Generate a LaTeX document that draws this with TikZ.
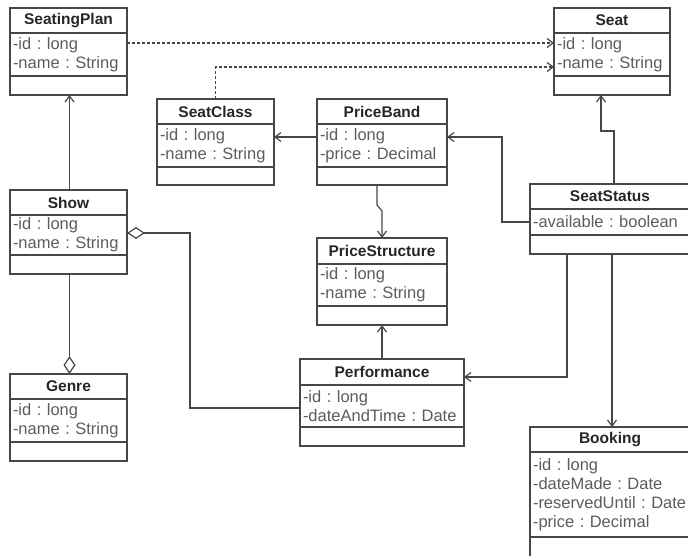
\documentclass[tikz,border=0pt]{standalone}
\usepackage{fontspec}
\setmainfont{Liberation Sans}
\usetikzlibrary{
    arrows.meta,
    positioning
}
\definecolor{linegray}{HTML}{474747}
\definecolor{textgray}{HTML}{5C5C5C}
\frenchspacing

\begin{document}
\begin{tikzpicture}
        [
            x = 1pt, y = -1pt,
            box/.style = {draw = linegray, line width = 1.2pt, rectangle, outer sep = 0pt},
            head/.style = {box, anchor = north west, inner sep = 0pt, minimum width = #1, minimum height = 25pt, text = black!85, font = \fontsize{15.5}{19}\selectfont\bfseries},
            attr/.style = {box, inner xsep = 3pt, inner ysep = 0pt, text width = #1, align = left, text = textgray, font = \fontsize{16.5}{19}\selectfont},
            oper/.style = {box, inner sep = 0pt, minimum width = #1, minimum height = 19pt},
            assoc/.style = {draw = linegray, line width = 1.2pt, -{Straight Barb[length = 6pt, width = 9pt]}},
            depend/.style = {assoc, dash pattern = on 3pt off 2pt},
            aggr/.style = {draw = linegray, line width = 1.2pt, {Diamond[open, length = 18pt, width = 12pt]}-}
        ]
        \useasboundingbox (0, 0) rectangle (688, 555);
        \clip (0, 0) rectangle (688, 555);
        % SeatingPlan
        \def\xpos{10}
        \def\ypos{8}
        \node[head = 117pt] (plan) at (\xpos, \ypos) {SeatingPlan};
        \node[attr = 111pt, minimum height = 43pt, below = 0pt of plan] (planA) {-id : long\\-name : String};
        \node[oper = 117pt, below = 0pt of planA] (planO) {};
        % Seat
        \def\xpos{554}
        \node[head = 116pt] (seat) at (\xpos, \ypos) {Seat};
        \node[attr = 110pt, minimum height = 43pt, below = 0pt of seat] (seatA) {-id : long\\-name : String};
        \node[oper = 116pt, below = 0pt of seatA] (seatO) {};
        % SeatClass
        \def\xpos{157}
        \def\ypos{99}
        \node[head = 117pt] (cls) at (\xpos, \ypos) {SeatClass};
        \node[attr = 111pt, minimum height = 43pt, below = 0pt of cls] (clsA) {-id : long\\-name : String};
        \node[oper = 117pt, minimum height = 18pt, below = 0pt of clsA] (clsO) {};
        % PriceBand
        \def\xpos{317}
        \node[head = 130pt] (band) at (\xpos, \ypos) {PriceBand};
        \node[attr = 124pt, minimum height = 43pt, below = 0pt of band] (bandA) {-id : long\\-price : Decimal};
        \node[oper = 130pt, minimum height = 18pt, below = 0pt of bandA] (bandO) {};
        % Show
        \def\xpos{10}
        \def\ypos{190}
        \node[head = 117pt] (show) at (\xpos, \ypos) {Show};
        \node[attr = 111pt, minimum height = 40pt, below = 0pt of show] (showA) {-id : long\\-name : String};
        \node[oper = 117pt, below = 0pt of showA] (showO) {};
        % SeatStatus
        \def\xpos{530}
        \def\ypos{184}
        \node[head = 160pt] (stat) at (\xpos, \ypos) {SeatStatus};
        \node[attr = 154pt, minimum height = 26pt, below = 0pt of stat] (statA) {-available : boolean};
        \node[oper = 160pt, below = 0pt of statA] (statO) {};
        % PriceStructure
        \def\xpos{317}
        \def\ypos{238}
        \node[head = 130pt, minimum height = 26pt] (pstruct) at (\xpos, \ypos) {PriceStructure};
        \node[attr = 124pt, minimum height = 42pt, below = 0pt of pstruct] (pstructA) {-id : long\\-name : String};
        \node[oper = 130pt, below = 0pt of pstructA] (pstructO) {};
        % Performance
        \def\xpos{300}
        \def\ypos{359}
        \node[head = 164pt, minimum height = 26pt] (perf) at (\xpos, \ypos) {Performance};
        \node[attr = 158pt, minimum height = 42pt, below = 0pt of perf] (perfA) {-id : long\\-dateAndTime : Date};
        \node[oper = 164pt, below = 0pt of perfA] (perfO) {};
        % Genre
        \def\xpos{10}
        \def\ypos{374}
        \node[head = 117pt] (genre) at (\xpos, \ypos) {Genre};
        \node[attr = 111pt, minimum height = 43pt, below = 0pt of genre] (genreA) {-id : long\\-name : String};
        \node[oper = 117pt, below = 0pt of genreA] (genreO) {};
        % Booking
        \def\xpos{530}
        \def\ypos{427}
        \node[head = 160pt] (book) at (\xpos, \ypos) {Booking};
        \node[attr = 154pt, minimum height = 85pt, below = 0pt of book] (bookA) {-id : long\\-dateMade : Date\\-reservedUntil : Date\\-price : Decimal};
        \node[oper = 160pt, minimum height = 25pt, below = 0pt of bookA] (bookO) {};
        % connectors
        \draw[assoc] ([xshift = 1pt]show.north) -- ([xshift = 1pt]planO.south);
        \draw[depend] ([yshift = -10pt]planA.north east) -- ([yshift = -10pt]seatA.north west);
        \draw[depend] (cls.north) |- ([yshift = -34pt]seatA.north west);
        \draw[assoc] ([yshift = -13pt]bandA.north west) -- ([yshift = -13pt]clsA.north east);
        \draw[assoc] ([xshift = -5pt]bandO.south) -- ++(0, 20) -- ++(5, 6) -- (pstruct.north);
        \draw[assoc] (statA.west) -- ++(-28, 0) |- ([yshift = -13pt]bandA.north east);
        \draw[assoc] ([xshift = 4pt]stat.north) -- ++(0, -53) -| ([xshift = -11pt]seatO.south);
        \draw[assoc] ([xshift = -43pt]statO.south) |- ([yshift = -18pt]perf.north east);
        \draw[assoc] ([xshift = 2pt]statO.south) -- ([xshift = 2pt]book.north);
        \draw[assoc] (perf.north) -- (pstructO.south);
        \draw[aggr] ([yshift = -18pt]showA.north east) -- ++(63, 0) |- ([yshift = -23pt]perfA.north west);
        \draw[aggr] ([xshift = 1pt]genre.north) -- ([xshift = 1pt]showO.south);
\end{tikzpicture}
\end{document}
